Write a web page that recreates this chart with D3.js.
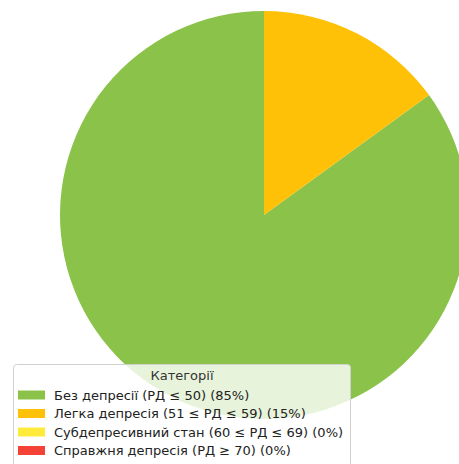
<!DOCTYPE html>
<html>
<head>
<meta charset="utf-8">
<script src="https://cdn.jsdelivr.net/npm/d3@7"></script>
<style>
  html, body { margin: 0; padding: 0; background: #fff; }
  svg { display: block; }
</style>
</head>
<body>
<svg id="chart" width="459" height="464"></svg>
<script>
// Depression-scale category shares (percent)
const categories = [
  "Без депресії (РД ≤ 50)",
  "Легка депресія (51 ≤ РД ≤ 59)",
  "Субдепресивний стан (60 ≤ РД ≤ 69)",
  "Справжня депресія (РД ≥ 70)"
];
const shares = [85, 15, 0, 0];
const colors = ["#8BC34A", "#FFC107", "#FFEB3B", "#F44336"];
const legendTitle = "Категорії";

const W = 459, H = 464;
const cx = 264, cy = 215, R = 204;

const svg = d3.select("#chart");
const data = categories.map((c, i) => ({ label: c, value: shares[i], color: colors[i] }));

// Slices run counter-clockwise from 12 o'clock, so the first category
// sweeps leftwards and the last non-zero one ends at the top.
const pie = d3.pie()
  .value(d => d.value)
  .sort(null)
  .startAngle(2 * Math.PI)
  .endAngle(0);

const arc = d3.arc().innerRadius(0).outerRadius(R);

svg.append("g")
  .attr("transform", `translate(${cx},${cy})`)
  .selectAll("path")
  .data(pie(data).filter(d => d.data.value > 0))
  .join("path")
  .attr("d", arc)
  .attr("fill", d => d.data.color);

// Legend
const lx = 13.5, ly = 364.5, lw = 337, lh = 110;
const lg = svg.append("g").attr("font-family", "DejaVu Sans, sans-serif").attr("font-size", 13);

lg.append("rect")
  .attr("x", lx).attr("y", ly)
  .attr("width", lw).attr("height", lh)
  .attr("rx", 3)
  .attr("fill", "rgba(255,255,255,0.8)")
  .attr("stroke", "#d0d0d0")
  .attr("stroke-width", 1);

lg.append("text")
  .attr("x", lx + lw / 2).attr("y", 375)
  .attr("text-anchor", "middle")
  .attr("dominant-baseline", "central")
  .attr("fill", "#333")
  .text(legendTitle);

const rowY = d3.scaleLinear().domain([0, 1]).range([395, 413.5]);

const rows = lg.selectAll("g.row")
  .data(data)
  .join("g")
  .attr("class", "row")
  .attr("transform", (d, i) => `translate(0,${rowY(i)})`);

rows.append("rect")
  .attr("x", 18).attr("y", -4.5)
  .attr("width", 27).attr("height", 9)
  .attr("fill", d => d.color);

rows.append("text")
  .attr("x", 54).attr("y", 0)
  .attr("dominant-baseline", "central")
  .attr("fill", "#222")
  .text(d => `${d.label} (${d.value}%)`);
</script>
</body>
</html>
